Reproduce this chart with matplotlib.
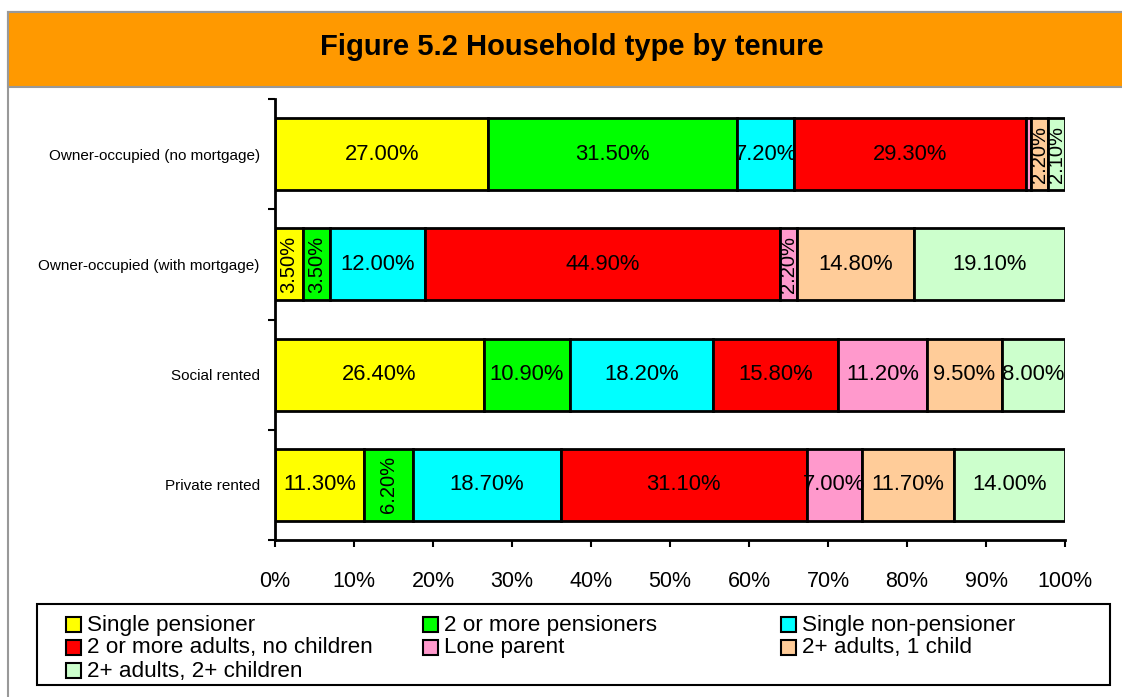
import numpy as np
import matplotlib.pyplot as plt
from matplotlib.patches import Rectangle

# data (percent of households)
tenures = ['Owner-occupied (no mortgage)', 'Owner-occupied (with mortgage)',
           'Social rented', 'Private rented']
groups = ['Single pensioner', '2 or more pensioners', 'Single non-pensioner',
          '2 or more adults, no children', 'Lone parent', '2+ adults, 1 child',
          '2+ adults, 2+ children']
single_pensioner = [27.0, 3.5, 26.4, 11.3]
two_pensioners = [31.5, 3.5, 10.9, 6.2]
single_non_pensioner = [7.2, 12.0, 18.2, 18.7]
adults_no_children = [29.3, 44.9, 15.8, 31.1]
lone_parent = [0.7, 2.2, 11.2, 7.0]
adults_one_child = [2.2, 14.8, 9.5, 11.7]
adults_two_children = [2.1, 19.1, 8.0, 14.0]
series = [single_pensioner, two_pensioners, single_non_pensioner,
          adults_no_children, lone_parent, adults_one_child, adults_two_children]
colors = ['#FFFF00', '#00FF00', '#00FFFF', '#FF0000', '#FF99CC', '#FFCC99', '#CCFFCC']
xticks = np.arange(0, 101, 10)

W, H = 1122, 697
plt.rcParams['font.family'] = ['Liberation Sans', 'DejaVu Sans']
fig = plt.figure(figsize=(W / 100, H / 100), dpi=100)

def fx(x):
    return x / W

def fy(y):
    return 1 - y / H

# outer frame and orange header
fig.add_artist(Rectangle((fx(8), fy(720)), fx(1130), fy(12) - fy(720),
                         transform=fig.transFigure, facecolor='white',
                         edgecolor='#999999', lw=1.5, zorder=0))
fig.add_artist(Rectangle((fx(8), fy(87)), fx(1130), fy(12) - fy(87),
                         transform=fig.transFigure, facecolor='#FF9900',
                         edgecolor='#999999', lw=1.5, zorder=1))
fig.text(fx(572), fy(47), 'Figure 5.2 Household type by tenure', ha='center',
         va='center', fontsize=21, fontweight='bold')

ax = fig.add_axes([fx(275), fy(540), fx(1065) - fx(275), fy(99) - fy(540)])
ypos = np.arange(len(tenures))[::-1]
left = np.zeros(len(tenures))
for vals, col in zip(series, colors):
    vals = np.array(vals)
    ax.barh(ypos, vals, left=left, height=0.655, color=col, edgecolor='black',
            linewidth=2, zorder=2)
    for y, l, v in zip(ypos, left, vals):
        if v < 1:
            continue
        if v < 7:   # narrow segments get vertical labels
            ax.text(l + v / 2, y, f'{v:.2f}%', ha='center', va='center',
                    rotation=90, fontsize=14.5, zorder=3)
        else:
            ax.text(l + v / 2, y, f'{v:.2f}%', ha='center', va='center',
                    fontsize=15.8, zorder=3)
    left += vals

ax.set_xlim(0, 100)
ax.set_ylim(-0.5, 3.5)
ax.set_xticks(xticks)
ax.set_xticklabels([f'{t}%' for t in xticks], fontsize=15.5)
ax.set_yticks(np.arange(-0.5, 4, 1))
ax.set_yticklabels([])
ax.set_yticks(ypos, minor=True)
ax.set_yticklabels(tenures, minor=True, fontsize=11)
ax.tick_params(axis='y', which='major', direction='out', length=5, width=1.5)
ax.tick_params(axis='y', which='minor', length=0, pad=11)
ax.tick_params(axis='x', direction='out', length=5, width=1.5, pad=17)
for s in ['top', 'right']:
    ax.spines[s].set_visible(False)
for s in ['left', 'bottom']:
    ax.spines[s].set_linewidth(2)

# legend box, row-major like the original
fig.add_artist(Rectangle((fx(37), fy(685)), fx(1110) - fx(37), fy(604) - fy(685),
                         transform=fig.transFigure, facecolor='white',
                         edgecolor='black', lw=1.5, zorder=1))
col_x = [66, 423, 781]
row_y = [624, 647, 670]
for i, (name, col) in enumerate(zip(groups, colors)):
    cx = col_x[i % 3]
    cy = row_y[i // 3]
    fig.add_artist(Rectangle((fx(cx), fy(cy + 7.5)), fx(15), fy(0) - fy(15),
                             transform=fig.transFigure, facecolor=col,
                             edgecolor='black', lw=1.5, zorder=2))
    fig.text(fx(cx + 21), fy(cy + 1), name, ha='left', va='center', fontsize=16.2,
             zorder=3)

plt.savefig('out.png', dpi=100)
